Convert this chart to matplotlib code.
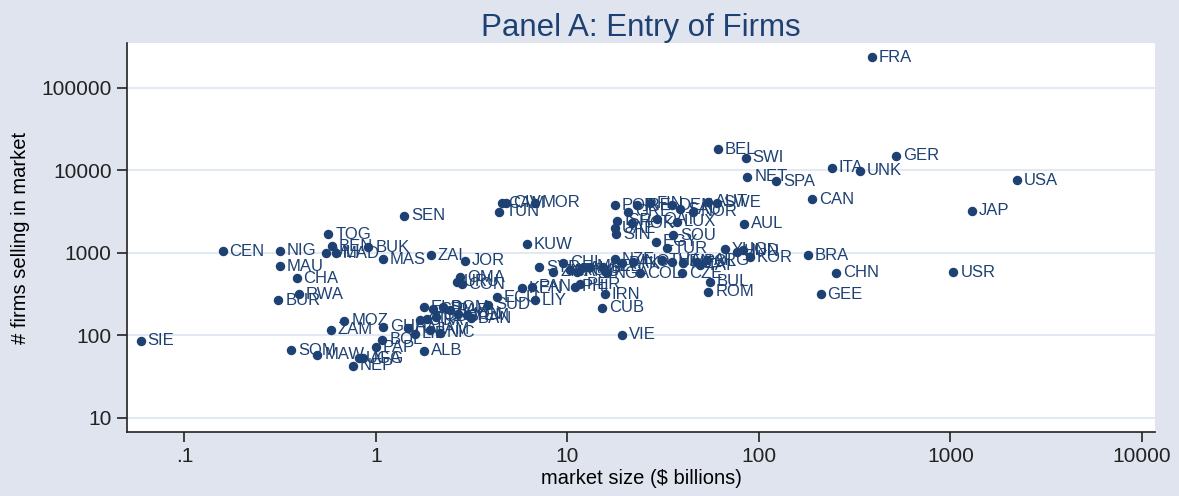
import numpy as np
import matplotlib.pyplot as plt
from matplotlib.ticker import FixedLocator, NullLocator

# country codes, market size ($ billions), number of French firms selling there
codes = ["SIE", "CEN", "NIG", "MAU", "CHA", "BUR", "RWA", "TOG", "BEN", "MLI",
         "MAD", "BUK", "MAS", "SEN", "ZAI", "MOZ", "ZAM", "SOM", "MAW", "NEP",
         "UGA", "AFG", "GHA", "BOL", "PAP", "ALB", "ELS", "SRI", "DOM", "PAR",
         "HON", "YEM", "BAN", "SUD", "ECU", "LIY", "GUA", "TRI", "COS", "JAM",
         "NIC", "HAI", "LIB", "JOR", "KUW", "OMA", "URU", "CON", "CAM", "TUN",
         "CIV", "MOR", "SYR", "CHI", "ZIM", "IRQ", "ANG", "ALG", "MAL", "LEB",
         "NGA", "NZE", "PAK", "INO", "COL", "THA", "VEN", "CZE", "MEX", "POL",
         "TAI", "ARG", "BUL", "ROM", "YUG", "HUN", "IND", "KOR", "AUL", "BEL",
         "SWI", "NET", "SPA", "CAN", "ITA", "UNK", "GER", "FRA", "USA", "JAP",
         "USR", "BRA", "CHN", "GEE", "SWE", "AUT", "DEN", "POR", "GRE", "IRE",
         "FIN", "SAU", "NOR", "ISR", "UAE", "SIN", "HOK", "QAT", "LUX", "SOU",
         "EGY", "TUR", "KEN", "PAN", "PHI", "PER", "IRN", "CUB", "VIE"]

market_size = [0.059, 0.158, 0.315, 0.315, 0.385, 0.309, 0.396, 0.563, 0.589, 0.546,
               0.618, 0.912, 1.09, 1.40, 1.93, 0.683, 0.580, 0.360, 0.494, 0.756,
               0.818, 0.858, 1.09, 1.08, 1.00, 1.78, 1.78, 1.99, 2.25, 2.43,
               2.69, 2.98, 3.12, 3.86, 4.27, 6.77, 1.70, 1.84, 2.07, 1.91,
               2.16, 1.47, 1.60, 2.92, 6.12, 2.75, 2.64, 2.80, 4.53, 4.39,
               4.77, 6.77, 7.13, 9.51, 8.43, 10.3, 11.2, 11.9, 13.1, 15.4,
               16.0, 17.7, 19.2, 22.1, 23.9, 31.1, 35.0, 39.5, 40.2, 47.3,
               49.2, 53.3, 55.5, 54.4, 66.4, 76.5, 82.8, 89.8, 83.5, 61.1,
               85.2, 86.9, 122.7, 189.9, 239.7, 336.7, 519, 388, 2218, 1291,
               1035, 179.6, 251.6, 209.9, 60.1, 54.4, 35.0, 17.7, 20.8, 23.0,
               27.0, 38.7, 45.4, 18.2, 17.7, 17.9, 21.6, 29.2, 37.2, 35.7,
               29.0, 33.0, 5.77, 6.50, 10.9, 11.6, 15.7, 15.1, 19.3]

n_firms = [86, 1040, 1060, 690, 490, 267, 313, 1670, 1205, 1000,
           984, 1162, 839, 2806, 938, 150, 116, 66, 58, 43,
           53, 53, 127, 88, 72, 65, 218, 206, 218, 202,
           181, 176, 162, 233, 288, 267, 153, 156, 168, 116,
           107, 122, 104, 800, 1274, 504, 445, 418, 3963, 3133,
           4055, 4030, 666, 757, 589, 617, 589, 647, 678, 678,
           563, 839, 745, 778, 563, 816, 778, 563, 745, 778,
           710, 816, 446, 337, 1100, 1028, 1078, 887, 2244, 17860,
           14130, 8318, 7380, 4467, 10690, 9840, 14830, 232300, 7590, 3220,
           580, 938, 573, 313, 4030, 4140, 3776, 3776, 3133, 3776,
           3963, 3350, 3112, 2422, 1973, 1670, 2270, 2535, 2372, 1637,
           1359, 1130, 371, 388, 388, 414, 313, 216, 101]

x_ticks = [0.1, 1, 10, 100, 1000, 10000]
x_ticklabels = [".1", "1", "10", "100", "1000", "10000"]
y_ticks = [10, 100, 1000, 10000, 100000]
y_ticklabels = ["10", "100", "1000", "10000", "100000"]

navy = "#1e4173"
bg = "#dfe4ef"

plt.rcParams['font.family'] = ['Liberation Sans', 'DejaVu Sans']

fig = plt.figure(figsize=(11.79, 4.96), dpi=100, facecolor=bg)
ax = fig.add_axes([0.1077, 0.129, 0.872, 0.7843])
ax.set_facecolor("white")

ax.set_xscale("log")
ax.set_yscale("log")
ax.set_xlim(0.0501, 11700)
ax.set_ylim(6.75, 346000)

for yv in y_ticks:
    ax.axhline(yv, color="#e3e8f1", lw=1.5, zorder=0)

ax.plot(market_size, n_firms, "o", color=navy, ms=5.8, zorder=3)
for c, xv, yv in zip(codes, market_size, n_firms):
    ax.annotate(c, (xv, yv), xytext=(5, 0), textcoords="offset points",
                va="center", ha="left", fontsize=12, color=navy, zorder=4)

ax.xaxis.set_major_locator(FixedLocator(x_ticks))
ax.xaxis.set_minor_locator(NullLocator())
ax.set_xticklabels(x_ticklabels)
ax.yaxis.set_major_locator(FixedLocator(y_ticks))
ax.yaxis.set_minor_locator(NullLocator())
ax.set_yticklabels(y_ticklabels)
ax.tick_params(axis="both", direction="out", length=7, width=1.2,
               colors="#222222", labelsize=15, pad=4)

for s in ["top", "right"]:
    ax.spines[s].set_visible(False)
for s in ["left", "bottom"]:
    ax.spines[s].set_color("#222222")
    ax.spines[s].set_linewidth(1.2)

ax.set_xlabel("market size ($ billions)", fontsize=14.5, labelpad=2)
ax.set_ylabel("# firms selling in market", fontsize=14.5, labelpad=8)
ax.set_title("Panel A: Entry of Firms", fontsize=22.5, color=navy, pad=5)

fig.savefig("out.png", dpi=100, facecolor=bg)
